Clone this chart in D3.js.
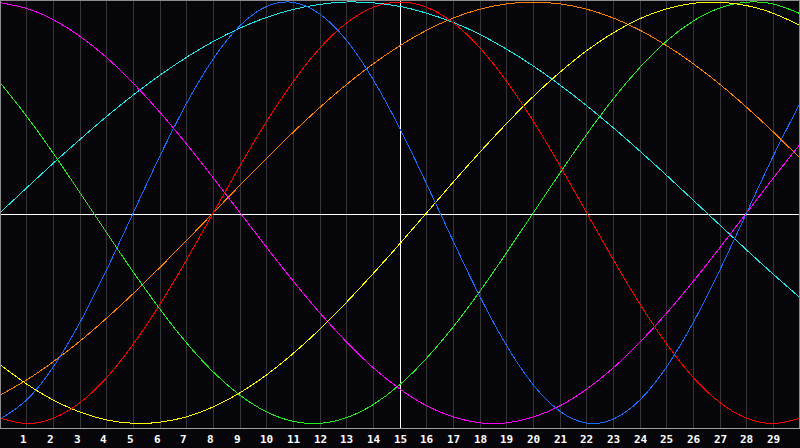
<!DOCTYPE html>
<html>
<head>
<meta charset="utf-8">
<script src="https://cdn.jsdelivr.net/npm/d3@7"></script>
<style>
  html, body { margin: 0; padding: 0; background: #060509; }
  svg { display: block; }
</style>
</head>
<body>
<svg id="chart" width="800" height="448"></svg>
<script>
// ---- data ----
const sampleDays = [0,1,2,3,4,5,6,7,8,9,10,11,12,13,14,15,16,17,18,19,20,21,22,23,24,25,26,27,28,29,30];
const dayLabels  = [1,2,3,4,5,6,7,8,9,10,11,12,13,14,15,16,17,18,19,20,21,22,23,24,25,26,27,28,29];
const todayDay = 15;

const magentaValues = [99.7,96.9,91.6,83.7,73.6,61.4,47.6,32.5,16.5,0,-16.5,-32.5,-47.6,-61.4,-73.6,-83.7,-91.6,-96.9,-99.7,-99.7,-96.9,-91.6,-83.7,-73.6,-61.4,-47.6,-32.5,-16.5,0,16.5,32.5];
const greenValues   = [61.8,45.8,28.2,9.5,-9.5,-28.2,-45.8,-61.8,-75.6,-86.6,-94.5,-99.0,-99.9,-97.2,-91.0,-81.5,-69.0,-54.1,-37.2,-18.9,0,18.9,37.2,54.1,69.0,81.5,91.0,97.2,99.9,99.0,94.5];
const cyanValues    = [0,11.8,23.5,34.8,45.7,55.9,65.3,73.8,81.3,87.6,92.7,96.5,98.9,100.0,99.6,97.9,94.7,90.3,84.6,77.6,69.6,60.6,50.8,40.3,29.2,17.7,5.9,-5.9,-17.7,-29.2,-40.3];
const orangeValues  = [-86.6,-79.3,-70.7,-60.9,-50.0,-38.3,-25.9,-13.1,0,13.1,25.9,38.3,50.0,60.9,70.7,79.3,86.6,92.4,96.6,99.1,100,99.1,96.6,92.4,86.6,79.3,70.7,60.9,50.0,38.3,25.9];
const redValues     = [-97.5,-100,-97.5,-90.1,-78.2,-62.3,-43.4,-22.3,0,22.3,43.4,62.3,78.2,90.1,97.5,100,97.5,90.1,78.2,62.3,43.4,22.3,0,-22.3,-43.4,-62.3,-78.2,-90.1,-97.5,-100,-97.5];
const blueValues    = [-97.9,-88.8,-73.1,-52.0,-27.0,0,27.0,52.0,73.1,88.8,97.9,99.8,94.2,81.7,63.1,39.8,13.6,-13.6,-39.8,-63.1,-81.7,-94.2,-99.8,-97.9,-88.8,-73.1,-52.0,-27.0,0,27.0,52.0];
const yellowValues  = [-72.0,-81.3,-88.9,-94.6,-98.3,-99.9,-99.4,-96.8,-92.1,-85.4,-76.9,-66.7,-55.2,-42.4,-28.8,-14.6,0,14.6,28.8,42.4,55.2,66.7,76.9,85.4,92.1,96.8,99.4,99.9,98.3,94.6,88.9];

const seriesList = [
  { name: "orange",  color: "#ff8000", values: orangeValues },
  { name: "cyan",    color: "#20e8e8", values: cyanValues },
  { name: "magenta", color: "#ff00ff", values: magentaValues },
  { name: "green",   color: "#22ee22", values: greenValues },
  { name: "yellow",  color: "#ffff00", values: yellowValues },
  { name: "red",     color: "#ff0000", values: redValues },
  { name: "blue",    color: "#1a6cff", values: blueValues }
];

// ---- drawing ----
const W = 800, H = 448;
const plotBottom = 428;
const svg = d3.select("#chart");

const x = d3.scaleLinear().domain([0, 30]).range([0, W]);
const y = d3.scaleLinear().domain([-100, 100]).range([423.5, 2]);
const px = v => Math.floor(v) + 0.5;

svg.append("rect").attr("width", W).attr("height", H).attr("fill", "#060509");

svg.append("defs").append("clipPath").attr("id", "plotclip")
  .append("rect").attr("x", 1).attr("y", 1).attr("width", W - 2).attr("height", plotBottom - 1);

// vertical grid
svg.append("g").selectAll("line").data(dayLabels).join("line")
  .attr("x1", d => px(x(d))).attr("x2", d => px(x(d)))
  .attr("y1", 1).attr("y2", plotBottom)
  .attr("stroke", d => d === todayDay ? "#ffffff" : "#35353a")
  .attr("stroke-width", 1)
  .attr("shape-rendering", "crispEdges");

// horizontal zero line
svg.append("line")
  .attr("x1", 1).attr("x2", W - 1)
  .attr("y1", 214.5).attr("y2", 214.5)
  .attr("stroke", "#ffffff").attr("shape-rendering", "crispEdges");

// curves
const line = d3.line()
  .x((v, i) => x(sampleDays[i]))
  .y(v => y(v))
  .curve(d3.curveNatural);

svg.append("g").attr("clip-path", "url(#plotclip)")
  .selectAll("path").data(seriesList).join("path")
  .attr("d", s => line(s.values))
  .attr("fill", "none")
  .attr("stroke", s => s.color)
  .attr("stroke-width", 1)
  .attr("shape-rendering", "crispEdges");

// frame
const frame = svg.append("g").attr("stroke", "#8c8c8c").attr("shape-rendering", "crispEdges");
frame.append("line").attr("x1", 0).attr("x2", W).attr("y1", 0.5).attr("y2", 0.5);
frame.append("line").attr("x1", 0.5).attr("x2", 0.5).attr("y1", 0).attr("y2", plotBottom);
frame.append("line").attr("x1", W - 0.5).attr("x2", W - 0.5).attr("y1", 0).attr("y2", plotBottom);
frame.append("line").attr("x1", 0).attr("x2", W).attr("y1", plotBottom + 0.5).attr("y2", plotBottom + 0.5)
  .attr("stroke", "#a0a0a0");

// day labels
svg.append("g").selectAll("text").data(dayLabels).join("text")
  .attr("x", d => Math.floor(x(d)) - 6)
  .attr("y", 443)
  .attr("text-anchor", "start")
  .attr("fill", "#ffffff")
  .attr("font-family", "'DejaVu Sans Mono', monospace")
  .attr("font-weight", "bold")
  .attr("font-size", "11px")
  .text(d => d);
</script>
</body>
</html>
